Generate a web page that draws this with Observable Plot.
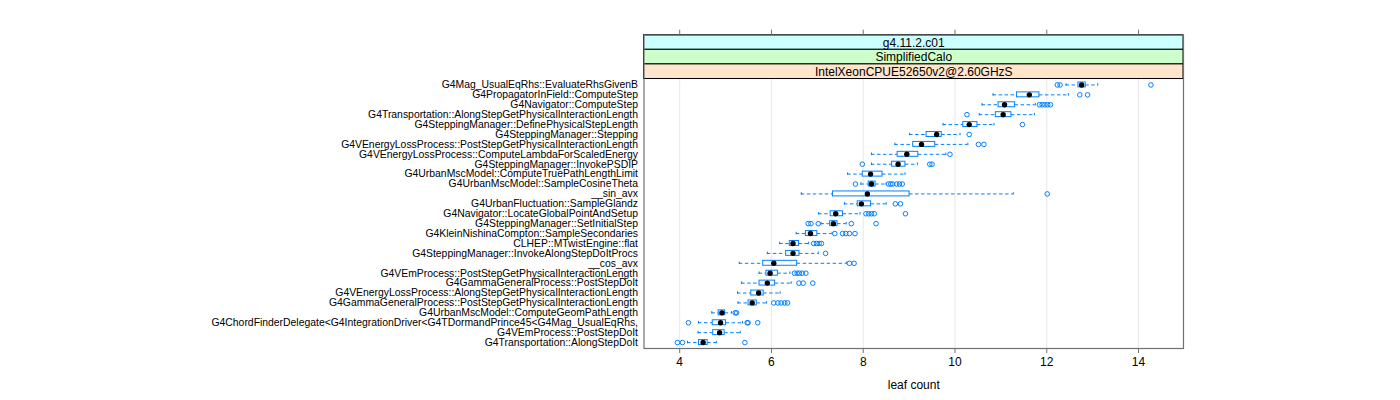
<!DOCTYPE html>
<html>
<head>
<meta charset="utf-8">
<script src="https://cdn.jsdelivr.net/npm/d3@7"></script>
<script src="https://cdn.jsdelivr.net/npm/@observablehq/plot@0.6"></script>
<style>
  html, body { margin: 0; padding: 0; background: #fff; }
  #chart svg { display: block; font-family: "Liberation Sans", Arial, sans-serif; }
</style>
</head>
<body>
<div id="chart"></div>
<script>
// Categories, top to bottom
const labels = [
  "G4Mag_UsualEqRhs::EvaluateRhsGivenB",
  "G4PropagatorInField::ComputeStep",
  "G4Navigator::ComputeStep",
  "G4Transportation::AlongStepGetPhysicalInteractionLength",
  "G4SteppingManager::DefinePhysicalStepLength",
  "G4SteppingManager::Stepping",
  "G4VEnergyLossProcess::PostStepGetPhysicalInteractionLength",
  "G4VEnergyLossProcess::ComputeLambdaForScaledEnergy",
  "G4SteppingManager::InvokePSDIP",
  "G4UrbanMscModel::ComputeTruePathLengthLimit",
  "G4UrbanMscModel::SampleCosineTheta",
  "__sin_avx",
  "G4UrbanFluctuation::SampleGlandz",
  "G4Navigator::LocateGlobalPointAndSetup",
  "G4SteppingManager::SetInitialStep",
  "G4KleinNishinaCompton::SampleSecondaries",
  "CLHEP::MTwistEngine::flat",
  "G4SteppingManager::InvokeAlongStepDoItProcs",
  "__cos_avx",
  "G4VEmProcess::PostStepGetPhysicalInteractionLength",
  "G4GammaGeneralProcess::PostStepDoIt",
  "G4VEnergyLossProcess::AlongStepGetPhysicalInteractionLength",
  "G4GammaGeneralProcess::PostStepGetPhysicalInteractionLength",
  "G4UrbanMscModel::ComputeGeomPathLength",
  "G4ChordFinderDelegate<G4IntegrationDriver<G4TDormandPrince45<G4Mag_UsualEqRhs,",
  "G4VEmProcess::PostStepDoIt",
  "G4Transportation::AlongStepDoIt"
];
// Box statistics (leaf count)
const whiskerLow  = [12.42,10.83,10.59,10.53, 9.74, 9.01, 8.69, 8.18, 8.18, 7.66, 7.95, 6.65, 7.59, 7.03, 7.08, 6.54, 6.18, 5.91, 5.30, 5.73, 5.35, 5.26, 5.27, 4.70, 4.41, 4.40, 4.17];
const q1          = [12.69,11.35,10.95,10.89,10.18, 9.38, 9.09, 8.75, 8.63, 7.99, 8.12, 7.34, 7.88, 7.29, 7.28, 6.75, 6.40, 6.32, 5.82, 5.89, 5.74, 5.56, 5.50, 4.85, 4.72, 4.73, 4.42];
const median      = [12.76,11.62,11.08,11.05,10.31, 9.60, 9.27, 8.95, 8.76, 8.16, 8.18, 8.09, 7.96, 7.40, 7.35, 6.85, 6.47, 6.47, 6.05, 5.97, 5.91, 5.72, 5.58, 4.92, 4.89, 4.87, 4.51];
const q3          = [12.85,11.84,11.31,11.23,10.49, 9.71, 9.57, 9.20, 8.92, 8.42, 8.27, 9.01, 8.17, 7.56, 7.44, 7.00, 6.60, 6.61, 6.56, 6.14, 6.08, 5.83, 5.68, 4.99, 5.01, 4.98, 4.61];
const whiskerHigh = [13.11,12.47,11.75,11.73,10.85,10.11,10.28, 9.80, 9.18, 8.91, 8.50,11.27, 8.50, 7.93, 7.63, 7.32, 6.81, 7.02, 7.63, 6.40, 6.43, 6.19, 5.89, 5.13, 5.37, 5.32, 4.80];
const outliers = [
  [12.23, 12.29, 14.27],
  [12.72, 12.89],
  [11.84, 11.90, 11.96, 12.02, 12.08],
  [10.26],
  [11.47],
  [10.31],
  [10.51, 10.63],
  [9.89],
  [7.98, 9.45, 9.50],
  [],
  [7.83, 8.55, 8.60, 8.64, 8.73, 8.79, 8.85],
  [12.01],
  [8.70, 8.81],
  [8.06, 8.12, 8.18, 8.24, 8.92],
  [6.80, 6.86, 7.02, 7.74, 8.28],
  [7.38, 7.55, 7.62, 7.70, 7.82],
  [6.92, 6.98, 7.04, 7.09],
  [7.18],
  [7.70, 7.80],
  [6.50, 6.56, 6.61, 6.67, 6.75],
  [6.60, 6.69, 6.90],
  [],
  [6.05, 6.14, 6.21, 6.29, 6.35],
  [5.21, 5.24],
  [4.19, 5.47, 5.49, 5.70],
  [],
  [3.95, 4.06, 5.42]
];
const xTicks = [4, 6, 8, 10, 12, 14];
const stripLabels = ["g4.11.2.c01", "SimplifiedCalo", "IntelXeonCPUE52650v2@2.60GHzS"];
const stripColors = ["#ccffff", "#ccffcc", "#ffe5cc"];
const xLabel = "leaf count";

const rows = labels.map((name, i) => ({
  name, lo: whiskerLow[i], q1: q1[i], med: median[i], q3: q3[i], hi: whiskerHigh[i]
}));
const outs = labels.flatMap((name, i) => outliers[i].map(v => ({name, v})));

const W = 1400, H = 400;
const mTop = 34.7, mBottom = 52, mLeft = 643.5, mRight = 217;
const panelTop = 78.5, frameBottom = H - mBottom;
const stripH = (panelTop - mTop) / 3;
const blue = "#0080ff";
const dash = "3.5,2.5";

const stripRects = stripLabels.map((lab, k) =>
  Plot.rect([lab], {
    fill: stripColors[k], stroke: "#000", strokeWidth: 1,
    insetTop: k * stripH, insetBottom: frameBottom - mTop - (k + 1) * stripH
  }));
const stripTexts = stripLabels.map((lab, k) =>
  Plot.text([lab], {
    text: d => d, frameAnchor: "top", lineAnchor: "middle", dy: k * stripH + stripH / 2 + 0.3,
    fontSize: 12, fill: "#000"
  }));

const chart = Plot.plot({
  width: W, height: H,
  marginTop: mTop, marginBottom: mBottom, marginLeft: mLeft, marginRight: mRight,
  style: {fontFamily: "Liberation Sans, Arial, sans-serif", background: "#fff"},
  x: {domain: [3.222, 14.98], axis: null},
  y: {type: "band", domain: labels, range: [panelTop, frameBottom], round: false,
      paddingInner: 0.5, paddingOuter: 0.35, axis: null},
  marks: [
    Plot.ruleX(xTicks, {x: d => d, stroke: "#e8e8e8", insetTop: panelTop - mTop}),
    ...stripRects,
    ...stripTexts,
    Plot.ruleY(rows, {y: "name", x1: "lo", x2: "q1", stroke: blue, strokeDasharray: dash}),
    Plot.ruleY(rows, {y: "name", x1: "q3", x2: "hi", stroke: blue, strokeDasharray: dash}),
    Plot.tickX(rows, {y: "name", x: "lo", stroke: blue, insetTop: 1.2, insetBottom: 1.2}),
    Plot.tickX(rows, {y: "name", x: "hi", stroke: blue, insetTop: 1.2, insetBottom: 1.2}),
    Plot.barX(rows, {y: "name", x1: "q1", x2: "q3", fill: "#fff", stroke: blue, strokeWidth: 1}),
    Plot.dot(outs, {y: "name", x: "v", r: 2.3, stroke: blue, fill: "none", strokeWidth: 1}),
    Plot.dot(rows, {y: "name", x: "med", r: 2.7, fill: "#000", stroke: "none"}),
    Plot.frame({stroke: "#707070", strokeWidth: 1.2}),
    Plot.axisX({anchor: "bottom", ticks: xTicks, tickSize: 5, tickPadding: 4, fontSize: 12,
      stroke: "#707070", label: xLabel, labelAnchor: "center", labelArrow: "none", labelOffset: 40}),
    Plot.axisX({anchor: "top", ticks: xTicks, tickSize: 6, tickFormat: () => "", stroke: "#707070", label: null}),
    Plot.axisY({anchor: "left", tickSize: 0, tickPadding: 6, fontSize: 10.4, label: null})
  ]
});
document.getElementById("chart").appendChild(chart);
</script>
</body>
</html>
